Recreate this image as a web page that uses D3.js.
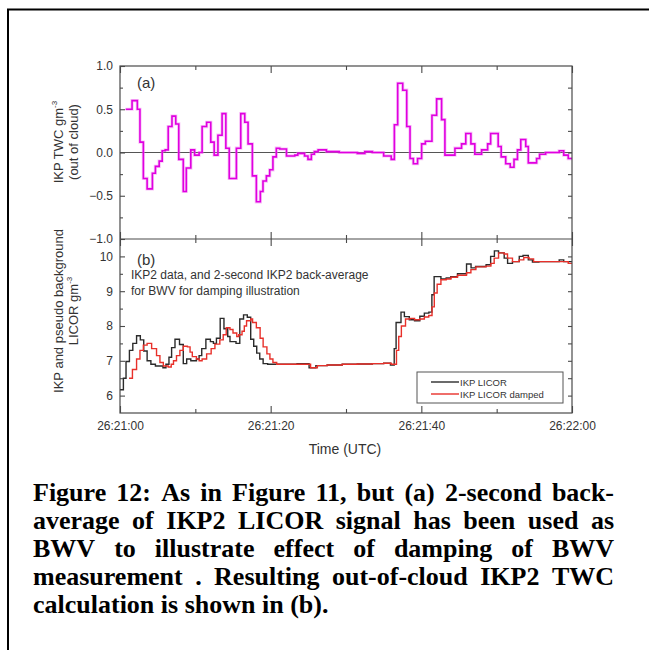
<!DOCTYPE html>
<html><head><meta charset="utf-8">
<script src="https://cdn.jsdelivr.net/npm/d3@7"></script>
<style>
html,body{margin:0;padding:0;background:#fff;}
svg{display:block;}
</style></head>
<body>
<svg id="chart" width="649" height="650"></svg>
<script>
// ---------- DATA ----------
// Panel (a): IKP TWC (out of cloud), step series, time in seconds after 26:21:00
const twcTime = [0.75,1.6,2.3,2.65,3.1,3.6,4.3,4.7,5.2,5.6,6.0,6.4,6.9,7.4,7.8,8.4,8.8,9.4,9.9,10.5,10.9,11.5,12.05,12.5,13.0,13.55,14.05,14.5,15.45,16.03,16.56,17.0,17.57,18.1,18.63,18.98,19.43,19.87,20.3,20.75,21.2,22.1,23.2,23.6,24.5,24.95,25.4,25.8,26.3,27.4,29.1,30.5,31.5,32.5,33.5,35.0,36.0,36.42,36.86,37.53,38.06,38.5,38.94,39.5,40.04,40.53,41.41,42.03,42.69,43.13,44.46,45.34,45.9,46.58,47.1,48.0,48.8,49.2,50.2,50.6,51.2,51.8,52.3,52.76,53.2,53.86,54.2,55.3,55.7,56.5,58.3,58.9,59.5,60];
const twcValue = [0.5,0.6,0.5,0.12,-0.3,-0.42,-0.24,-0.16,-0.1,0.02,0.03,0.3,0.42,0.33,-0.08,-0.45,-0.18,0.03,-0.03,0.0,0.3,0.35,0.12,-0.03,0.2,0.45,0.05,-0.3,0.05,0.45,0.35,0.1,-0.27,-0.57,-0.45,-0.33,-0.27,-0.2,-0.05,0.05,0.04,-0.04,-0.03,-0.01,-0.04,-0.08,-0.02,0.01,0.03,0.01,0.0,0.0,-0.01,0.01,0.0,-0.04,-0.08,0.32,0.8,0.72,0.3,-0.07,-0.13,-0.07,0.1,0.13,0.43,0.62,0.38,-0.03,0.05,0.1,0.22,0.1,-0.02,0.03,0.1,0.22,0.07,-0.05,-0.13,-0.17,-0.08,0.03,0.15,0.07,-0.12,-0.07,-0.02,0.0,0.02,-0.03,-0.07,-0.07];

// Panel (b): IKP LICOR (black)
const licorTime = [0,0.45,0.8,1.25,1.7,2.2,2.7,3.15,3.6,4.1,4.7,5.7,6.1,6.5,6.85,7.3,7.9,8.4,8.85,9.4,10.15,10.5,10.85,11.4,12.0,12.4,12.8,13.3,13.8,14.3,14.6,15.4,15.9,16.4,16.9,17.35,17.75,18.15,18.55,19.0,19.6,20.3,22.0,23.5,25.1,26.0,27.5,29.5,31.5,33.5,35.0,35.9,36.4,36.65,37.3,37.75,38.4,39.1,39.8,40.4,41.0,41.4,41.7,42.6,43.3,43.9,44.8,46.0,46.6,47.2,48.6,49.2,49.7,50.25,51.0,51.45,52.1,53.0,53.5,54.2,54.75,55.6,58.3,58.9,60];
const licorValue = [6.17,6.5,6.98,7.3,7.5,7.72,7.6,7.28,7.0,6.9,6.85,6.8,6.9,7.1,7.38,7.62,7.47,6.92,7.05,7.0,7.05,7.15,7.35,7.62,7.55,7.5,7.65,8.22,7.92,7.7,7.55,7.5,8.2,8.32,8.25,7.62,7.42,7.22,7.05,6.92,6.9,6.9,6.9,6.92,6.8,6.86,6.88,6.9,6.91,6.92,6.93,6.88,7.35,8.1,8.4,8.27,8.18,8.15,8.28,8.37,8.4,8.9,9.42,9.35,9.38,9.42,9.5,9.78,9.67,9.71,9.76,10.0,10.16,10.1,9.95,9.8,9.85,10.0,10.03,9.9,9.84,9.85,9.9,9.85,9.85];

// Panel (b): IKP LICOR damped (red)
const dampedTime = [1.2,1.65,2.2,2.65,3.1,3.6,4.2,4.85,5.3,5.75,6.4,6.8,7.1,7.5,7.95,8.4,8.95,9.3,9.6,10.15,10.5,10.9,11.5,12.1,12.6,13.25,13.7,14.1,14.6,15.0,15.5,15.76,16.2,16.5,16.8,17.35,17.6,18.1,18.6,19.0,19.5,19.9,20.3,20.8,22.0,23.5,25.3,26.2,27.5,29.5,31.5,33.5,35.0,36.0,36.7,37.0,37.35,37.9,38.5,39.1,39.8,40.4,40.98,41.42,41.72,42.1,42.6,43.3,43.93,44.8,46.0,46.58,47.24,48.57,49.23,49.67,50.25,51.0,51.44,52.1,52.98,53.6,54.3,54.9,55.6,58.3,59.5,60];
const dampedValue = [6.5,6.75,7.05,7.3,7.45,7.5,7.35,7.15,6.95,6.85,6.82,6.9,7.0,7.15,7.3,7.42,7.4,7.25,7.12,7.05,7.0,7.05,7.2,7.35,7.48,7.6,7.75,7.95,7.9,7.8,7.7,7.75,7.85,8.0,8.15,8.2,8.1,7.95,7.65,7.4,7.2,7.05,6.95,6.9,6.9,6.9,6.8,6.86,6.88,6.9,6.91,6.92,6.93,6.9,7.3,7.7,8.0,8.2,8.22,8.18,8.2,8.26,8.3,8.55,8.95,9.2,9.33,9.35,9.4,9.46,9.53,9.62,9.7,9.72,9.8,9.95,10.1,10.07,9.95,9.85,9.9,9.97,9.93,9.85,9.85,9.85,9.8,9.8];

const xTickValues = [0,20,40,60];
const xTickLabels = ["26:21:00","26:21:20","26:21:40","26:22:00"];
const yTicksA = [1.0,0.5,0.0,-0.5,-1.0];
const yTicksB = [6,7,8,9,10];
const legendLabels = ["IKP LICOR","IKP LICOR damped"];
const captionLines = [
  "Figure 12: As in Figure 11, but (a) 2-second back-",
  "average of IKP2 LICOR signal has been used as",
  "BWV to illustrate effect of damping of BWV",
  "measurement .  Resulting out-of-cloud IKP2 TWC",
  "calculation is shown in (b)."
];

// ---------- LAYOUT ----------
const svg = d3.select("#chart");
const L = 120, R = 572, TA = 66, MID = 239, BB = 413;
const axisColor = "#4a4a4a", textColor = "#333";
const sans = "'Liberation Sans', Arial, sans-serif";

// outer frame (left and top)
svg.append("path").attr("d","M8,650 V9.5 H649").attr("fill","none").attr("stroke","#000").attr("stroke-width",2);

const x = d3.scaleLinear().domain([0,60]).range([L,R]);
const yA = d3.scaleLinear().domain([-1,1]).range([MID,TA]);
const yB = d3.scaleLinear().domain([5.5,10.5]).range([BB,MID]);

svg.append("clipPath").attr("id","clipA").append("rect").attr("x",L).attr("y",TA).attr("width",R-L).attr("height",MID-TA);
svg.append("clipPath").attr("id","clipB").append("rect").attr("x",L).attr("y",MID).attr("width",R-L).attr("height",BB-MID);

// zero line panel a
svg.append("line").attr("x1",L).attr("x2",R).attr("y1",yA(0)).attr("y2",yA(0)).attr("stroke","#555").attr("stroke-width",1.2);

// data lines
const lineA = d3.line().x((d,i)=>x(twcTime[i])).y(d=>yA(d)).curve(d3.curveStepAfter);
svg.append("path").attr("clip-path","url(#clipA)").attr("d",lineA(twcValue))
  .attr("fill","none").attr("stroke","#f07af0").attr("stroke-width",3.2).attr("stroke-opacity",0.45);
svg.append("path").attr("clip-path","url(#clipA)").attr("d",lineA(twcValue))
  .attr("fill","none").attr("stroke","#e000e0").attr("stroke-width",1.6);

const lineBlack = d3.line().x((d,i)=>x(licorTime[i])).y(d=>yB(d)).curve(d3.curveStepAfter);
const lineRed = d3.line().x((d,i)=>x(dampedTime[i])).y(d=>yB(d)).curve(d3.curveStepAfter);
svg.append("path").attr("clip-path","url(#clipB)").attr("d",lineBlack(licorValue))
  .attr("fill","none").attr("stroke","#2b2b2b").attr("stroke-width",1.4);
svg.append("path").attr("clip-path","url(#clipB)").attr("d",lineRed(dampedValue))
  .attr("fill","none").attr("stroke","#e8302a").attr("stroke-width",1.4);

// axes with inward ticks
svg.append("g").attr("transform",`translate(${L},0)`)
  .call(d3.axisLeft(yA).tickValues(yTicksA).tickSize(-5).tickPadding(7).tickFormat(d3.format(".1f")));
svg.append("g").attr("transform",`translate(${L},0)`)
  .call(d3.axisLeft(yA).tickValues(d3.range(-0.75,1,0.5)).tickSize(-3).tickFormat(""));
svg.append("g").attr("transform",`translate(${R},0)`)
  .call(d3.axisRight(yA).tickValues(d3.range(-0.75,1,0.25)).tickSize(-4).tickFormat(""));
svg.append("g").attr("transform",`translate(${L},0)`)
  .call(d3.axisLeft(yB).tickValues(yTicksB).tickSize(-5).tickPadding(7).tickFormat(d3.format("d")));
svg.append("g").attr("transform",`translate(${L},0)`)
  .call(d3.axisLeft(yB).tickValues([6.5,7.5,8.5,9.5]).tickSize(-3).tickFormat(""));
svg.append("g").attr("transform",`translate(${R},0)`)
  .call(d3.axisRight(yB).tickValues([6,6.5,7,7.5,8,8.5,9,9.5,10]).tickSize(-4).tickFormat(""));

// x ticks on top of (a), both sides of middle line, bottom of (b)
function xTicks(y, dir, labels){
  const axis = (dir === "down" ? d3.axisTop(x) : d3.axisBottom(x));
  svg.append("g").attr("transform",`translate(0,${y})`)
    .call(axis.tickValues(xTickValues).tickSize(-7).tickPadding(8)
      .tickFormat(labels ? ((d,i)=>xTickLabels[i]) : ""));
  const axis2 = (dir === "down" ? d3.axisTop(x) : d3.axisBottom(x));
  svg.append("g").attr("transform",`translate(0,${y})`)
    .call(axis2.tickValues([10,30,50]).tickSize(-4).tickFormat(""));
}
xTicks(TA,"down",false); xTicks(MID,"up",false); xTicks(MID,"down",false); xTicks(BB,"up",true);

// style axes
svg.selectAll(".domain").remove();
svg.selectAll(".tick line").attr("stroke",axisColor).attr("stroke-width",1.1);
svg.selectAll(".tick text").attr("fill",textColor).attr("font-family",sans).attr("font-size",12);

// frames
svg.append("rect").attr("x",L).attr("y",TA).attr("width",R-L).attr("height",BB-TA)
  .attr("fill","none").attr("stroke",axisColor).attr("stroke-width",1.2);
svg.append("line").attr("x1",L).attr("x2",R).attr("y1",MID).attr("y2",MID).attr("stroke",axisColor).attr("stroke-width",1.2);

// panel labels
svg.append("text").attr("x",137).attr("y",88).text("(a)").attr("font-family",sans).attr("font-size",15).attr("fill",textColor);
svg.append("text").attr("x",137).attr("y",265).text("(b)").attr("font-family",sans).attr("font-size",15).attr("fill",textColor);
svg.append("text").attr("x",131).attr("y",279).text("IKP2 data, and 2-second IKP2 back-average").attr("font-family",sans).attr("font-size",12).attr("fill",textColor);
svg.append("text").attr("x",131).attr("y",295).text("for BWV for damping illustration").attr("font-family",sans).attr("font-size",12).attr("fill",textColor);

// y-axis titles
function yTitle(lines, cy){
  lines.forEach((ln,i)=>{
    const t = svg.append("text").attr("transform",`translate(${63+i*15},${cy}) rotate(-90)`)
      .attr("text-anchor","middle").attr("font-family",sans).attr("font-size",13).attr("fill",textColor);
    if (ln.sup){
      t.append("tspan").text(ln.text);
      t.append("tspan").text(ln.sup).attr("font-size",8).attr("dy",-6);
    } else t.text(ln.text);
  });
}
yTitle([{text:"IKP TWC gm",sup:"-3"},{text:"(out of cloud)"}], 142);
yTitle([{text:"IKP and pseudo background"},{text:"LICOR gm",sup:"-3"}], 311);

// x-axis title
svg.append("text").attr("x",345).attr("y",454).attr("text-anchor","middle").text("Time (UTC)")
  .attr("font-family",sans).attr("font-size",14).attr("fill",textColor);

// legend
const lg = svg.append("g");
lg.append("rect").attr("x",417).attr("y",372).attr("width",146).attr("height",31)
  .attr("fill","#fff").attr("stroke","#555").attr("stroke-width",1);
const legColors = ["#2b2b2b","#e8302a"];
legendLabels.forEach((lab,i)=>{
  const yy = 382 + i*12;
  lg.append("line").attr("x1",431).attr("x2",459).attr("y1",yy).attr("y2",yy).attr("stroke",legColors[i]).attr("stroke-width",1.4);
  lg.append("text").attr("x",460).attr("y",yy+3.5).text(lab).attr("font-family",sans).attr("font-size",9.5).attr("fill",textColor);
});

// caption (justified)
const capX0 = 33, capX1 = 614, capY0 = 501, capDY = 28, capSize = 26;
const serif = "'Liberation Serif','Times New Roman',serif";
captionLines.forEach((line,li)=>{
  const yy = capY0 + li*capDY;
  const words = line.split(/\s+/);
  const last = li === captionLines.length-1;
  if (last){
    svg.append("text").attr("x",capX0).attr("y",yy).text(line)
      .attr("font-family",serif).attr("font-weight","bold").attr("font-size",capSize).attr("fill","#000");
    return;
  }
  const nodes = words.map(w=>svg.append("text").attr("y",yy).text(w)
      .attr("font-family",serif).attr("font-weight","bold").attr("font-size",capSize).attr("fill","#000"));
  const widths = nodes.map(n=>n.node().getComputedTextLength());
  const total = d3.sum(widths);
  const gap = (capX1 - capX0 - total)/(words.length-1);
  let cx = capX0;
  nodes.forEach((n,i)=>{ n.attr("x",cx); cx += widths[i] + gap; });
});
</script>
</body></html>
